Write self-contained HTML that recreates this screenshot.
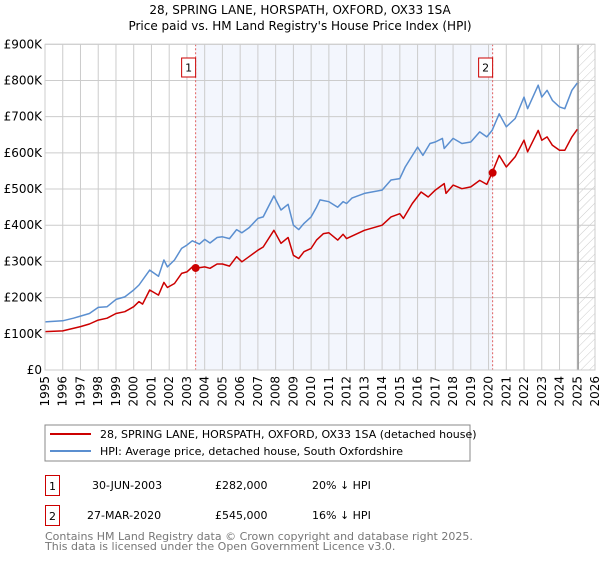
<!DOCTYPE html>
<html><head><meta charset="utf-8"><style>
body{margin:0;background:#fff;font-family:"DejaVu Sans","Liberation Sans",sans-serif;}
svg text{font-family:"DejaVu Sans","Liberation Sans",sans-serif;}
</style></head><body>
<svg id="chart" width="600" height="560" viewBox="0 0 600 560" xmlns="http://www.w3.org/2000/svg">
<defs><pattern id="hatch" width="6" height="6" patternUnits="userSpaceOnUse" patternTransform="rotate(45)"><line x1="0" y1="0" x2="0" y2="6" stroke="#ccc" stroke-width="1"/></pattern></defs>
<text x="300" y="14" text-anchor="middle" font-size="12">28, SPRING LANE, HORSPATH, OXFORD, OX33 1SA</text>
<text x="300" y="30" text-anchor="middle" font-size="12">Price paid vs. HM Land Registry's House Price Index (HPI)</text>
<g id="plot"></g>
<rect x="45" y="425" width="425" height="36" fill="#fff" stroke="#888"/>
<line x1="50" y1="434" x2="91" y2="434" stroke="#cc0000" stroke-width="2"/>
<text x="100" y="438" font-size="11">28, SPRING LANE, HORSPATH, OXFORD, OX33 1SA (detached house)</text>
<line x1="50" y1="451" x2="91" y2="451" stroke="#5b8fd0" stroke-width="2"/>
<text x="100" y="455" font-size="11">HPI: Average price, detached house, South Oxfordshire</text>
<g>
<rect x="45.5" y="475.5" width="14" height="20" fill="#fff" stroke="#cc0000"/>
<text x="52.5" y="490" text-anchor="middle" font-size="11">1</text>
<text x="92" y="489" font-size="11">30-JUN-2003</text>
<text x="215" y="489" font-size="11">£282,000</text>
<text x="312" y="489" font-size="11">20% ↓ HPI</text></g>
<g>
<rect x="45.5" y="505.5" width="14" height="20" fill="#fff" stroke="#cc0000"/>
<text x="52.5" y="520" text-anchor="middle" font-size="11">2</text>
<text x="87" y="519" font-size="11">27-MAR-2020</text>
<text x="215" y="519" font-size="11">£545,000</text>
<text x="312" y="519" font-size="11">16% ↓ HPI</text></g>
<text x="45" y="540" font-size="11" fill="#777">Contains HM Land Registry data © Crown copyright and database right 2025.</text>
<text x="45" y="550" font-size="11" fill="#777">This data is licensed under the Open Government Licence v3.0.</text>
</svg>
<script>
const yearTicks=[1995,1996,1997,1998,1999,2000,2001,2002,2003,2004,2005,2006,2007,2008,2009,2010,2011,2012,2013,2014,2015,2016,2017,2018,2019,2020,2021,2022,2023,2024,2025,2026];
const valueTicks=[0,100,200,300,400,500,600,700,800,900];
const valueTickLabels=["£0","£100K","£200K","£300K","£400K","£500K","£600K","£700K","£800K","£900K"];
const hpiYears=[1995,1996,1996.6,1997,1997.5,1998,1998.5,1999,1999.5,2000,2000.3,2000.9,2001.4,2001.7,2001.9,2002.3,2002.7,2003,2003.3,2003.7,2004,2004.3,2004.7,2005,2005.4,2005.8,2006.1,2006.5,2007,2007.3,2007.9,2008.3,2008.7,2009,2009.3,2009.6,2010,2010.3,2010.5,2011,2011.5,2011.8,2012,2012.3,2013,2014,2014.5,2015,2015.3,2016,2016.3,2016.7,2017,2017.4,2017.5,2018,2018.5,2019,2019.5,2019.9,2020.2,2020.6,2021,2021.5,2022,2022.2,2022.8,2023,2023.3,2023.6,2024,2024.3,2024.7,2025];
const hpiValues=[133,136,143,149,156,173,175,195,202,221,235,276,259,304,285,304,336,345,357,348,361,351,366,368,363,388,379,393,419,423,481,442,458,400,388,405,423,450,470,465,450,465,460,475,488,497,525,529,561,616,593,626,630,640,612,640,626,630,658,644,662,708,672,695,754,722,787,754,773,745,727,722,773,793];
const priceYears=[1995,1996,1997,1997.5,1998,1998.5,1999,1999.5,2000,2000.3,2000.5,2000.9,2001.4,2001.7,2001.9,2002.3,2002.7,2003,2003.3,2003.5,2004,2004.3,2004.7,2005,2005.4,2005.8,2006.1,2006.5,2007,2007.3,2007.9,2008.3,2008.7,2009,2009.3,2009.6,2010,2010.3,2010.7,2011,2011.5,2011.8,2012,2013,2014,2014.5,2015,2015.2,2015.7,2016.2,2016.6,2017,2017.5,2017.6,2018,2018.5,2019,2019.5,2019.9,2020.2,2020.6,2021,2021.5,2022,2022.2,2022.8,2023,2023.3,2023.6,2024,2024.3,2024.7,2025];
const priceValues=[106,108,120,127,138,143,156,161,175,189,182,221,207,242,228,239,267,271,285,281,285,281,293,293,287,313,299,313,331,340,386,350,366,317,308,327,336,359,377,379,359,375,363,386,400,423,432,419,460,492,478,497,515,488,511,501,506,524,513,545,593,561,589,635,603,662,635,644,621,607,607,644,665];
const saleYears=[2003.49,2020.23];
const saleValues=[282,545];
const saleLabels=["1","2"];
const NS="http://www.w3.org/2000/svg";
const X0=45,X1=595,Y0=370,Y1=44.3;
const xs=y=>X0+(y-1995)/(2026-1995)*(X1-X0);
const ys=v=>Y0-v/900*(Y0-Y1);
const g=document.getElementById('plot');
function el(t,a,p){const e=document.createElementNS(NS,t);for(const k in a)e.setAttribute(k,a[k]);(p||g).appendChild(e);return e;}
let sh=el('rect',{x:xs(saleYears[0]),y:Y1,width:xs(saleYears[1])-xs(saleYears[0]),height:Y0-Y1,fill:'#f3f6fd'});


let ht=el('rect',{x:xs(2025.05),y:Y1,width:X1-xs(2025.05),height:Y0-Y1,fill:'url(#hatch)'});


yearTicks.forEach(y=>{
 let l=el('line',{x1:xs(y),x2:xs(y),y1:Y1,y2:Y0,stroke:'#ccc'});
 
 
 let t=el('text',{x:0,y:0,'font-size':12,'text-anchor':'end',transform:`translate(${xs(y)+4},${Y0+6}) rotate(-90)`});
 t.textContent=y;
 
 
});
valueTicks.forEach((v,i)=>{
 let l=el('line',{x1:X0,x2:X1,y1:ys(v),y2:ys(v),stroke:'#ccc'});
 
 
 let t=el('text',{x:X0-3,y:ys(v)+4,'font-size':12,'text-anchor':'end'});
 t.textContent=valueTickLabels[i];
 
 
});
let vl=el('line',{x1:xs(2025.05),x2:xs(2025.05),y1:Y1,y2:Y0,stroke:'#999','stroke-width':1.5});


saleYears.forEach((y,i)=>{
 let l=el('line',{x1:xs(y),x2:xs(y),y1:Y1,y2:Y0,stroke:'#e06060','stroke-dasharray':'2,2'});
 
 
 let r=el('rect',{x:xs(y)-14,y:58,width:14,height:19,fill:'#fff',stroke:'#cc0000'});
 
 
 let t=el('text',{x:xs(y)-7,y:71.5,'font-size':11,'text-anchor':'middle'});
 t.textContent=saleLabels[i];
 
 
});
function path(xa,va,c,name){
 const d=xa.map((y,i)=>(i?'L':'M')+xs(y).toFixed(1)+','+ys(va[i]).toFixed(1)).join('');
 let p=el('path',{d:d,fill:'none',stroke:c,'stroke-width':1.5,'stroke-linejoin':'round'});
 
 
}
path(hpiYears,hpiValues,'#5b8fd0','hpi-line');
path(priceYears,priceValues,'#cc0000','property-price-line');
saleYears.forEach((y,i)=>{
 let c=el('circle',{cx:xs(y),cy:ys(saleValues[i]),r:4,fill:'#cc0000'});
 
 
});
let ax=el('rect',{x:X0,y:Y1,width:X1-X0,height:Y0-Y1,fill:'none',stroke:'#ccc'});


</script>
</body></html>
